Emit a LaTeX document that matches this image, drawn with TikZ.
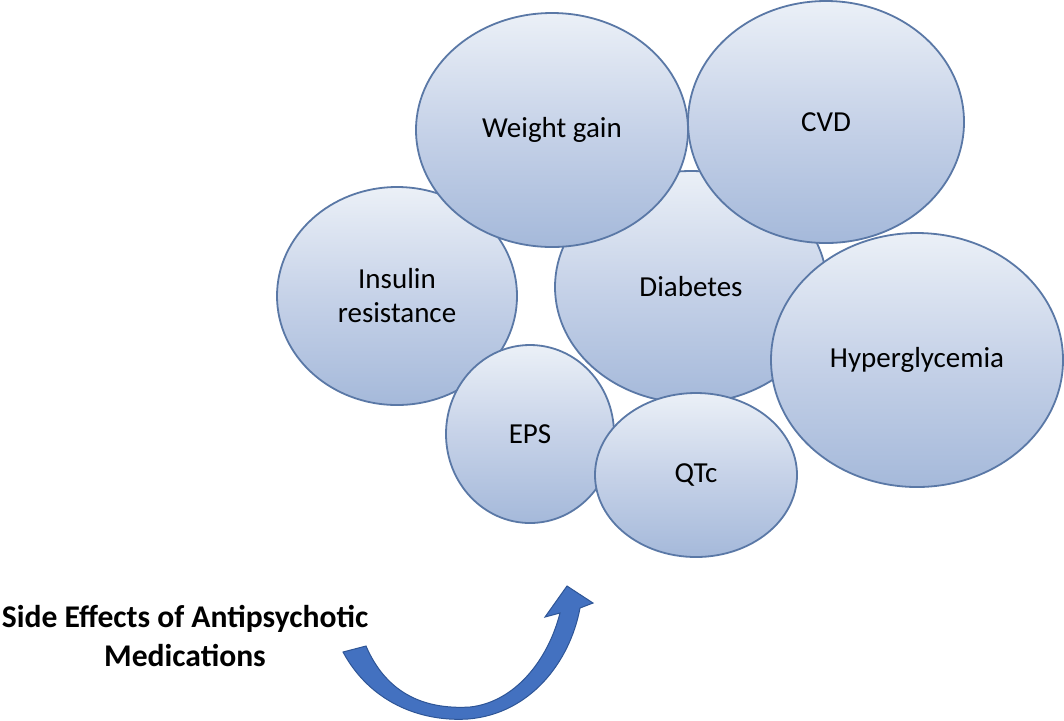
\documentclass[tikz,border=0pt]{standalone}
\usepackage{fontspec}
\setmainfont{Carlito}
\usetikzlibrary{shapes.geometric}
\definecolor{bubbletop}{HTML}{EBF0F7}
\definecolor{bubblemid}{HTML}{C6D2E8}
\definecolor{bubblebot}{HTML}{A5B9DA}
\definecolor{bubbleline}{HTML}{5A78A6}
\definecolor{arrowblue}{HTML}{4371C0}
\definecolor{arrowdark}{HTML}{2E5596}

\begin{document}
\begin{tikzpicture}[
			x=0.5pt, y=-0.5pt,
			bubble/.style={
				draw=bubbleline,
				line width=0.9pt,
				ellipse,
				inner sep=0pt,
				top color=bubbletop,
				bottom color=bubblebot,
				middle color=bubblemid,
				align=center,
				font=\fontsize{14.5}{17}\selectfont
			},
			title/.style={
				align=center,
				font=\fontsize{15.8}{19.5}\selectfont\bfseries
			},
			bigarrow/.style={
				fill=arrowblue,
				draw=arrowdark,
				line width=0.5pt
			}
			]
			\useasboundingbox (0,0) rectangle (1064,720);
			
			% Nodes
			\node[bubble, minimum width=120pt, minimum height=109pt] (insulin) at (397,296) {Insulin\\resistance};
			\node[bubble, minimum width=136pt, minimum height=116pt] (diabetes) at (691,287) {Diabetes};
			\node[bubble, minimum width=136pt, minimum height=117pt] (weight) at (552,130) {Weight gain};
			\node[bubble, minimum width=138pt, minimum height=121pt] (cvd) at (826,122) {CVD};
			\node[bubble, minimum width=146pt, minimum height=127pt] (hyper) at (917,360) {Hyperglycemia};
			\node[bubble, minimum width=84pt, minimum height=89pt] (eps) at (530,434) {EPS};
			\node[bubble, minimum width=101pt, minimum height=82pt] (qtc) at (696,475) {QTc};
			\node[title] (side) at (185,636) {Side Effects of Antipsychotic\\Medications};
			
			% Arrow
			\draw[bigarrow] (343,652) .. controls (370,702) and (420,722) .. (468,719)
				.. controls (530,714) and (570,662) .. (580,608)
				-- (593,603) -- (567,586) -- (545,617) -- (560,613)
				.. controls (548,660) and (515,702) .. (470,707)
				.. controls (420,710) and (385,690) .. (366,646) -- cycle;
			
		\end{tikzpicture}
\end{document}
